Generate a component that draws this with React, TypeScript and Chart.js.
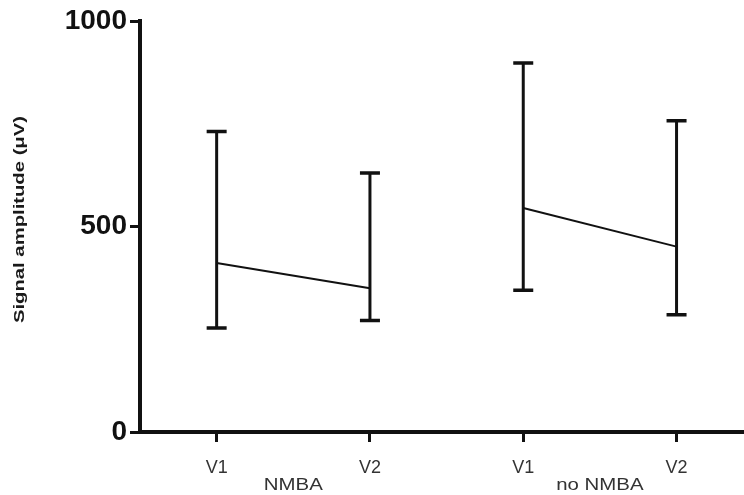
import React, { useEffect, useRef } from "react";
import { Chart, registerables } from "chart.js";

Chart.register(...registerables);

const xTickLabels = ["V1", "V2", "V1", "V2"];
const xPositions = [0, 1, 2, 3];
const groupLabels = ["NMBA", "no NMBA"];
const groupPositions = [0.5, 2.5];
const nmbaMean = [411, 350];
const noNmbaMean = [545, 451];
const errLow = [253, 271, 345, 285];
const errHigh = [731, 630, 898, 757];
const yTicks = [0, 500, 1000];
const yTitle = "Signal amplitude (\u03bcV)";

const FONT = "'Liberation Sans', Arial, Helvetica, sans-serif";

const overlayPlugin = {
  id: "overlay",
  afterDatasetsDraw(chart: any) {
    const { ctx, scales } = chart;
    const xs = scales.x;
    const ys = scales.y;
    ctx.save();
    ctx.strokeStyle = "#111";
    ctx.lineCap = "butt";
    xPositions.forEach((pos, i) => {
      const px = xs.getPixelForValue(pos);
      const pLo = ys.getPixelForValue(errLow[i]);
      const pHi = ys.getPixelForValue(errHigh[i]);
      ctx.lineWidth = 3;
      ctx.beginPath();
      ctx.moveTo(px, pLo);
      ctx.lineTo(px, pHi);
      ctx.stroke();
      ctx.lineWidth = 3.5;
      ctx.beginPath();
      ctx.moveTo(px - 10, pLo);
      ctx.lineTo(px + 10, pLo);
      ctx.moveTo(px - 10, pHi);
      ctx.lineTo(px + 10, pHi);
      ctx.stroke();
    });
    ctx.restore();
  },
  afterDraw(chart: any) {
    const { ctx, scales, chartArea } = chart;
    const xs = scales.x;
    ctx.save();
    ctx.fillStyle = "#333";
    ctx.font = `17px ${FONT}`;
    ctx.textAlign = "center";
    ctx.textBaseline = "middle";
    groupLabels.forEach((lbl, i) => {
      const px = xs.getPixelForValue(groupPositions[i]);
      ctx.save();
      ctx.translate(px, chartArea.bottom + 53);
      ctx.scale(1.2, 1);
      ctx.fillText(lbl, 0, 0);
      ctx.restore();
    });
    ctx.fillStyle = "#1a1a1a";
    ctx.font = `bold 15px ${FONT}`;
    ctx.translate(20, (chartArea.top + chartArea.bottom) / 2 - 7);
    ctx.rotate(-Math.PI / 2);
    ctx.scale(1.35, 1);
    ctx.fillText(yTitle, 0, 0);
    ctx.restore();
  },
};

export default function App() {
  const ref = useRef<HTMLCanvasElement | null>(null);

  useEffect(() => {
    if (!ref.current) return;
    const chart = new Chart(ref.current, {
      type: "line",
      data: {
        datasets: [
          {
            label: groupLabels[0],
            data: nmbaMean.map((v, i) => ({ x: xPositions[i], y: v })),
            borderColor: "#111",
            borderWidth: 2,
            pointRadius: 0,
          },
          {
            label: groupLabels[1],
            data: noNmbaMean.map((v, i) => ({ x: xPositions[i + 2], y: v })),
            borderColor: "#111",
            borderWidth: 2,
            pointRadius: 0,
          },
        ],
      },
      options: {
        animation: false,
        responsive: true,
        maintainAspectRatio: false,
        layout: { padding: { left: 0, right: 0, top: 21, bottom: 0 } },
        plugins: {
          legend: { display: false },
          tooltip: { enabled: false },
        },
        scales: {
          x: {
            type: "linear",
            min: -0.5,
            max: 3.44,
            afterBuildTicks: (scale: any) => {
              scale.ticks = xPositions.map((v) => ({ value: v }));
            },
            afterFit: (scale: any) => {
              scale.height = 63;
            },
            grid: {
              drawOnChartArea: false,
              drawTicks: true,
              tickLength: 10,
              tickWidth: 3,
              tickColor: "#111",
            },
            border: { display: true, width: 4, color: "#111" },
            ticks: {
              autoSkip: false,
              maxRotation: 0,
              padding: 15,
              color: "#333",
              font: { family: FONT, size: 18 },
              callback: (value: any) => {
                const idx = xPositions.indexOf(Number(value));
                return idx >= 0 ? xTickLabels[idx] : "";
              },
            },
          },
          y: {
            type: "linear",
            min: 0,
            max: 1000,
            afterBuildTicks: (scale: any) => {
              scale.ticks = yTicks.map((v) => ({ value: v }));
            },
            afterFit: (scale: any) => {
              scale.width = 140;
            },
            grid: {
              drawOnChartArea: false,
              drawTicks: true,
              tickLength: 10,
              tickWidth: 3,
              tickColor: "#111",
            },
            border: { display: true, width: 4, color: "#111" },
            ticks: {
              padding: 3,
              color: "#111",
              font: { family: FONT, size: 28, weight: "bold" },
              callback: (value: any) => String(value),
            },
          },
        },
      },
      plugins: [overlayPlugin],
    } as any);
    return () => chart.destroy();
  }, []);

  return (
    <div
      style={{
        position: "fixed",
        left: 0,
        top: 0,
        width: 744,
        height: 495,
        background: "#fff",
      }}
    >
      <canvas ref={ref} />
    </div>
  );
}
